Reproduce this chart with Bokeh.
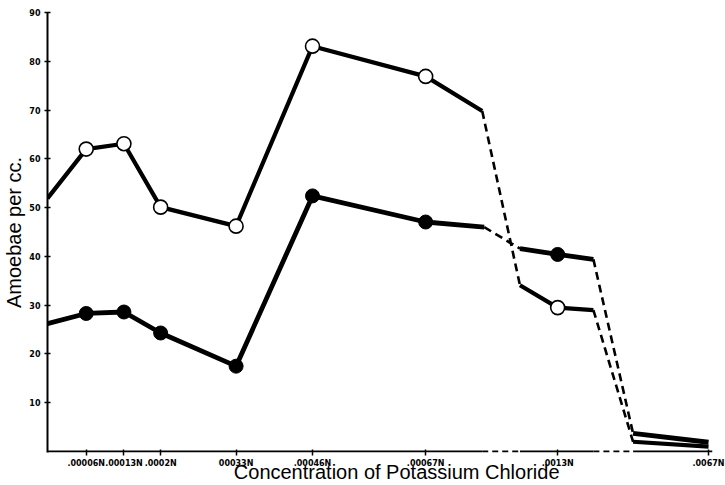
from bokeh.plotting import figure
from bokeh.models import Range1d, FixedTicker
from bokeh.embed import file_html
from bokeh.resources import INLINE

# ---- data (x = position along the concentration axis) ----
tick_pos = [39, 77, 114, 190, 267, 381, 514, 666]
tick_labels = [".00006N", ".00013N", ".0002N", "00033N", ".00046N", ".00067N", ".0013N", ".0067N"]
y_ticks = [10, 20, 30, 40, 50, 60, 70, 80, 90]

open_x = [0, 39, 77, 114, 190, 267, 381, 438, 476, 514, 550, 590, 666]
open_y = [51.9, 62.0, 63.1, 50.1, 46.2, 83.1, 76.9, 69.8, 34.1, 29.5, 29.0, 2.0, 1.0]

filled_x = [0, 39, 77, 114, 190, 267, 381, 440, 476, 514, 550, 590, 666]
filled_y = [26.2, 28.3, 28.6, 24.3, 17.5, 52.4, 47.05, 46.0, 41.6, 40.4, 39.4, 3.7, 1.9]

marker_idx = [1, 2, 3, 4, 5, 6, 9]
dashed_segments = [7, 10]

baseline_x = [0, 438, 476, 550, 590, 670]
baseline_y = [0, 0, 0, 0, 0, 0]
baseline_dashed = [1, 3]


def split(xs, ys, dashed):
    sx, sy, dx, dy = [], [], [], []
    cur_x, cur_y = [], []
    for i in range(len(xs) - 1):
        if i in dashed:
            if cur_x:
                sx.append(cur_x); sy.append(cur_y)
                cur_x, cur_y = [], []
            dx.append([xs[i], xs[i + 1]]); dy.append([ys[i], ys[i + 1]])
        else:
            if not cur_x:
                cur_x, cur_y = [xs[i]], [ys[i]]
            cur_x.append(xs[i + 1]); cur_y.append(ys[i + 1])
    if cur_x:
        sx.append(cur_x); sy.append(cur_y)
    return sx, sy, dx, dy


p = figure(width=725, height=485, output_backend="svg", toolbar_location=None,
           x_range=Range1d(0, 670), y_range=Range1d(-0.2, 90),
           min_border_left=42, min_border_right=13, min_border_top=12, min_border_bottom=33)
p.title.visible = False
p.outline_line_color = None
p.xgrid.grid_line_color = None
p.ygrid.grid_line_color = None
p.background_fill_color = "white"
p.border_fill_color = "white"

# y axis
ya = p.yaxis[0]
ya.ticker = FixedTicker(ticks=y_ticks)
ya.axis_line_width = 2
ya.axis_line_color = "black"
ya.major_tick_in = 3
ya.major_tick_out = 3
ya.major_tick_line_width = 1.5
ya.major_tick_line_color = "black"
ya.minor_tick_line_color = None
ya.major_label_text_font = "DejaVu Sans"
ya.major_label_text_font_style = "bold"
ya.major_label_text_font_size = "8px"
ya.major_label_text_color = "black"
ya.major_label_standoff = 4
ya.axis_label = "Amoebae per cc."
ya.axis_label_text_font = "Liberation Sans"
ya.axis_label_text_font_style = "normal"
ya.axis_label_text_font_size = "20px"
ya.axis_label_text_color = "black"
ya.axis_label_standoff = 1

# x axis
xa = p.xaxis[0]
xa.ticker = FixedTicker(ticks=tick_pos)
xa.major_label_overrides = {t: l for t, l in zip(tick_pos, tick_labels)}
xa.axis_line_color = None
xa.major_tick_in = 3
xa.major_tick_out = 3
xa.major_tick_line_width = 1.5
xa.major_tick_line_color = "black"
xa.minor_tick_line_color = None
xa.major_label_text_font = "DejaVu Sans"
xa.major_label_text_font_style = "bold"
xa.major_label_text_font_size = "8px"
xa.major_label_text_color = "black"
xa.major_label_standoff = 3
# leading no-break spaces shift the centred title right, as in the reference
xa.axis_label = "\u00a0" * 6 + "Concentration of Potassium Chloride"
xa.axis_label_text_font = "Liberation Sans"
xa.axis_label_text_font_style = "normal"
xa.axis_label_text_font_size = "20px"
xa.axis_label_text_color = "black"
xa.axis_label_text_line_height = 0.7
xa.axis_label_standoff = -10

# baseline with axis breaks
bsx, bsy, bdx, bdy = split(baseline_x, baseline_y, baseline_dashed)
p.multi_line(bsx, bsy, line_color="black", line_width=2)
p.multi_line(bdx, bdy, line_color="black", line_width=2, line_dash="6 4")

# series lines
for xs, ys, w in ((open_x, open_y, 4.2), (filled_x, filled_y, 4.8)):
    sx, sy, dx, dy = split(xs, ys, dashed_segments)
    p.multi_line(sx, sy, line_color="black", line_width=w, line_join="round")
    p.multi_line(dx, dy, line_color="black", line_width=2.6, line_dash="8 5")

# markers
p.scatter([open_x[i] for i in marker_idx], [open_y[i] for i in marker_idx],
          marker="circle", size=14, fill_color="white", line_color="black", line_width=1.6)
p.scatter([filled_x[i] for i in marker_idx], [filled_y[i] for i in marker_idx],
          marker="circle", size=14, fill_color="black", line_color="black")

open("out.html", "w").write(file_html(p, INLINE))
